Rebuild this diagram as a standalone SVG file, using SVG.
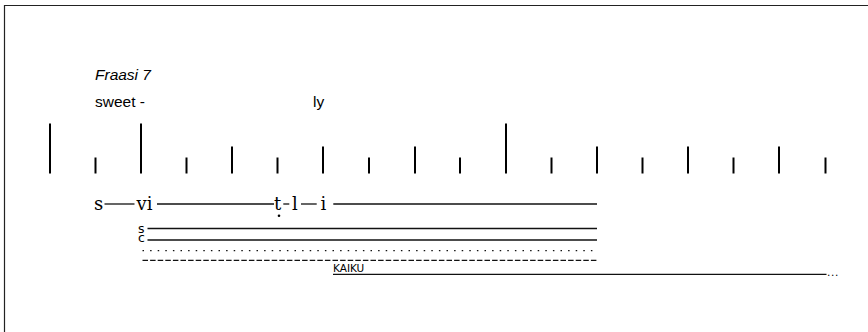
<svg xmlns="http://www.w3.org/2000/svg" width="868" height="332" viewBox="0 0 868 332">
  <style>
    .frame { stroke: #222; stroke-width: 1.2; fill: none; }
    .tick { stroke: #000; stroke-width: 2; }
    .lbl { font-family: "Liberation Sans", Arial, sans-serif; font-size: 15.5px; fill: #000; }
    .ital { font-style: italic; }
    .ph { font-family: "DejaVu Serif", serif; font-size: 18px; fill: #000; }
    .small { font-family: "DejaVu Sans", sans-serif; font-size: 12.5px; fill: #000; }
    .tiny { font-family: "DejaVu Sans", sans-serif; font-size: 10.5px; fill: #000; }
    .rule { stroke: #111; stroke-width: 1.3; fill: none; }
    .dotted { stroke: #111; stroke-width: 1.3; stroke-dasharray: 1.5 6.1; fill: none; }
    .dashed { stroke: #111; stroke-width: 1.3; stroke-dasharray: 5.5 2.1; fill: none; }
  </style>

  <!-- frame (top and left edges) -->
  <path class="frame" d="M4.5 332 V5.5 H868"/>

  <!-- heading and lyrics -->
  <g id="heading">
    <text class="lbl ital" x="95" y="80">Fraasi 7</text>
    <text class="lbl" x="95" y="107">sweet -</text>
    <text class="lbl" x="313" y="107">ly</text>
  </g>

  <!-- beat grid: tall, medium and short ticks -->
  <g id="beats">
    <line class="tick" x1="50" y1="123.5" x2="50" y2="173.5"/>
    <line class="tick" x1="95.5" y1="157.5" x2="95.5" y2="173.5"/>
    <line class="tick" x1="141" y1="123.5" x2="141" y2="173.5"/>
    <line class="tick" x1="186.5" y1="157.5" x2="186.5" y2="173.5"/>
    <line class="tick" x1="232" y1="146.5" x2="232" y2="173.5"/>
    <line class="tick" x1="277.5" y1="157.5" x2="277.5" y2="173.5"/>
    <line class="tick" x1="323" y1="146.5" x2="323" y2="173.5"/>
    <line class="tick" x1="369" y1="157.5" x2="369" y2="173.5"/>
    <line class="tick" x1="415" y1="146.5" x2="415" y2="173.5"/>
    <line class="tick" x1="460" y1="157.5" x2="460" y2="173.5"/>
    <line class="tick" x1="506" y1="123.5" x2="506" y2="173.5"/>
    <line class="tick" x1="551.5" y1="157.5" x2="551.5" y2="173.5"/>
    <line class="tick" x1="597" y1="146.5" x2="597" y2="173.5"/>
    <line class="tick" x1="642.5" y1="157.5" x2="642.5" y2="173.5"/>
    <line class="tick" x1="688" y1="146.5" x2="688" y2="173.5"/>
    <line class="tick" x1="733.5" y1="157.5" x2="733.5" y2="173.5"/>
    <line class="tick" x1="779" y1="146.5" x2="779" y2="173.5"/>
    <line class="tick" x1="825.5" y1="157.5" x2="825.5" y2="173.5"/>
  </g>

  <!-- phonetic line: s — vi — t̩ - l — i — -->
  <g id="phonetic">
    <text class="ph" x="94" y="210">s</text>
    <text class="ph" x="136.5" y="210">vi</text>
    <text class="ph" x="274" y="210">t</text>
    <circle cx="279" cy="215.8" r="1.3" fill="#000"/>
    <text class="ph" x="292" y="210">l</text>
    <text class="ph" x="320.5" y="210">i</text>
  </g>

  <!-- sustained layers -->
  <g id="layer-s">
    <text class="small" x="138" y="233">s</text>
  </g>
  <g id="layer-c">
    <text class="small" x="138" y="242">c</text>
  </g>
  <g id="layer-kaiku">
    <text class="tiny" x="333" y="272">KAIKU</text>
    <text class="tiny" x="827" y="276" letter-spacing="0.6">...</text>
  </g>

  <g id="connectors">
    <line class="rule" x1="104.5" y1="204" x2="134.5" y2="204"/>
    <line class="rule" x1="157" y1="204" x2="274" y2="204"/>
    <line class="rule" x1="283.3" y1="204" x2="289.3" y2="204"/>
    <line class="rule" x1="301" y1="204" x2="316.7" y2="204"/>
    <line class="rule" x1="333.3" y1="204" x2="597" y2="204"/>
    <line class="rule" x1="147.5" y1="228.5" x2="597" y2="228.5"/>
    <line class="rule" x1="147.5" y1="240" x2="597" y2="240"/>
    <line class="dotted" x1="142.5" y1="250.7" x2="597" y2="250.7"/>
    <line class="dashed" x1="142.5" y1="260.3" x2="597" y2="260.3"/>
    <line class="rule" x1="333" y1="274.3" x2="826.5" y2="274.3"/>
  </g>
</svg>
